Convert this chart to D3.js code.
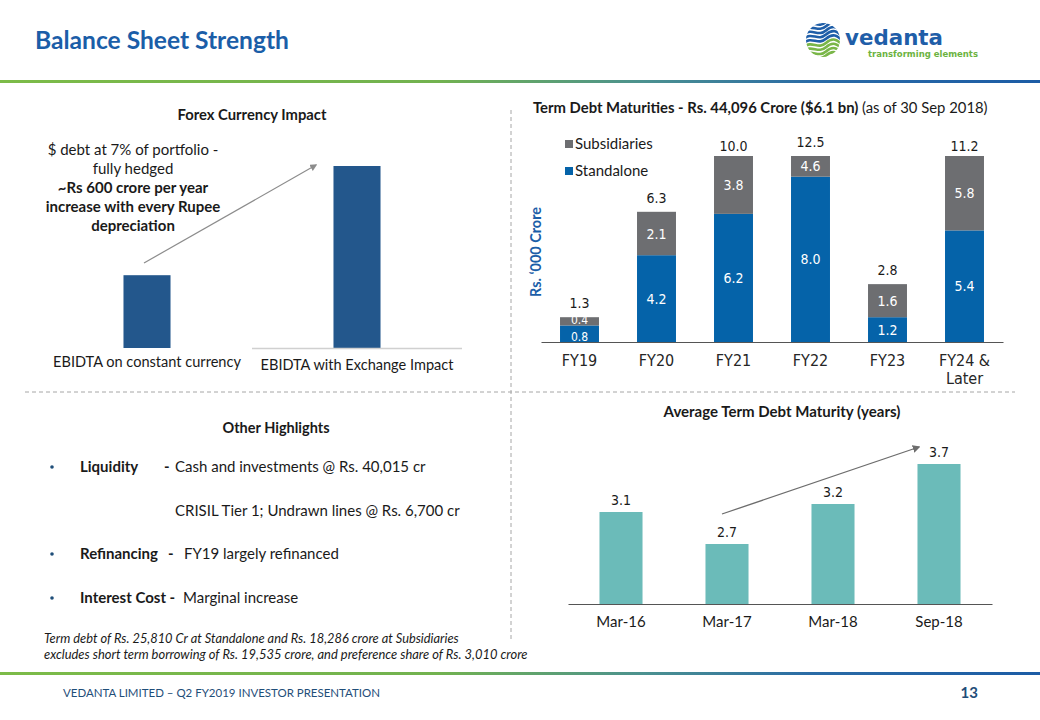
<!DOCTYPE html>
<html><head><meta charset="utf-8">
<script src="https://cdn.jsdelivr.net/npm/d3@7"></script>
<style>body{margin:0;background:#fff}svg{display:block}</style>
</head><body><svg id="c" width="1040" height="720"></svg>
<script>
// ---------- DATA ----------
const forexCategories = ["EBIDTA on constant currency", "EBIDTA with Exchange Impact"];
const forexValues = [40, 100]; // relative (illustrative) heights
const forexNote = ["$ debt at 7% of portfolio -", "fully hedged", "~Rs 600 crore per year", "increase with every Rupee", "depreciation"];

const maturityYears = ["FY19", "FY20", "FY21", "FY22", "FY23", "FY24 & Later"];
const standalone = [0.8, 4.2, 6.2, 8.0, 1.2, 5.4];
const subsidiaries = [0.4, 2.1, 3.8, 4.6, 1.6, 5.8];
const maturityTotals = [1.3, 6.3, 10.0, 12.5, 2.8, 11.2];
const seriesNames = ["Subsidiaries", "Standalone"];

const avgPeriods = ["Mar-16", "Mar-17", "Mar-18", "Sep-18"];
const avgMaturity = [3.1, 2.7, 3.2, 3.7];

const highlights = [
  {head: "Liquidity", dash: "-", text: "Cash and investments @ Rs. 40,015 cr"},
  {head: "", dash: "", text: "CRISIL Tier 1; Undrawn lines @ Rs. 6,700 cr"},
  {head: "Refinancing", dash: "-", text: "FY19 largely refinanced"},
  {head: "Interest Cost -", dash: "", text: "Marginal increase"}
];
const footnotes = [
  "Term debt of Rs. 25,810 Cr at Standalone and Rs. 18,286 crore at Subsidiaries",
  "excludes short term borrowing of Rs. 19,535 crore, and preference share of Rs. 3,010 crore"
];

// ---------- SETUP ----------
const svg = d3.select("#c");
const CAL = "Lato, 'Open Sans', sans-serif";
const VER = "'DejaVu Sans Condensed', 'DejaVu Sans', Verdana, sans-serif";
const BLUE = "#1b5ea8";

function fit(sel, w) {
  sel.each(function () {
    const l = this.getComputedTextLength();
    if (l > 0) {
      const fs = parseFloat(this.getAttribute("font-size"));
      this.setAttribute("font-size", (fs * w / l).toFixed(2));
    }
  });
  return sel;
}

const defs = svg.append("defs");
function grad(id, stops) {
  const g = defs.append("linearGradient").attr("id", id).attr("x1", 0).attr("x2", 1).attr("y1", 0).attr("y2", 0);
  stops.forEach(s => g.append("stop").attr("offset", s[0]).attr("stop-color", s[1]));
}
grad("lineGrad", [[0, "#7cbb48"], [0.42, "#72b24f"], [0.62, "#4b9190"], [0.78, "#2a6ba6"], [1, "#1c5ca5"]]);

// header
svg.append("text").attr("x", 35).attr("y", 49).attr("font-family", CAL).attr("font-weight", 700)
  .attr("font-size", 25).attr("fill", BLUE).text("Balance Sheet Strength").call(fit, 254);
svg.append("rect").attr("x", 0).attr("y", 80).attr("width", 1040).attr("height", 3).attr("fill", "url(#lineGrad)");
svg.append("rect").attr("x", 0).attr("y", 672).attr("width", 1040).attr("height", 3).attr("fill", "url(#lineGrad)");

// logo
const logo = svg.append("g");
defs.append("clipPath").attr("id", "globe").append("circle").attr("cx", 823).attr("cy", 40).attr("r", 17);
const lg = logo.append("g").attr("clip-path", "url(#globe)");
for (let i = 0; i < 9; i++) {
  const y0 = 22 + i * 4.2;
  const col = i < 5 ? "#1f5ea8" : "#7ab648";
  lg.append("path")
    .attr("d", `M804,${y0 + 4} C812,${y0 - 3} 818,${y0 + 7} 826,${y0} S838,${y0 - 2} 844,${y0 + 3}`)
    .attr("fill", "none").attr("stroke", col).attr("stroke-width", 2.6);
}
logo.append("text").attr("x", 845).attr("y", 45).attr("font-family", "'DejaVu Sans', sans-serif").attr("font-weight", 700)
  .attr("font-size", 21).attr("fill", "#1f5ea8").text("vedanta")
  .attr("textLength", 98).attr("lengthAdjust", "spacingAndGlyphs");
logo.append("text").attr("x", 868).attr("y", 57).attr("font-family", "'DejaVu Sans', sans-serif").attr("font-weight", 700)
  .attr("font-size", 9.5).attr("fill", "#6cb33f").text("transforming elements")
  .attr("textLength", 110).attr("lengthAdjust", "spacingAndGlyphs");

// separators
svg.append("line").attr("x1", 25).attr("x2", 1015).attr("y1", 392).attr("y2", 392)
  .attr("stroke", "#a6a6a6").attr("stroke-dasharray", "4,3");
svg.append("line").attr("x1", 511).attr("x2", 511).attr("y1", 110).attr("y2", 641)
  .attr("stroke", "#a6a6a6").attr("stroke-dasharray", "4,3");

// arrow markers
function marker(id, col) {
  defs.append("marker").attr("id", id).attr("viewBox", "0 0 10 10").attr("refX", 8).attr("refY", 5)
    .attr("markerWidth", 6).attr("markerHeight", 6).attr("orient", "auto")
    .append("path").attr("d", "M0,0 L10,5 L0,10 z").attr("fill", col);
}
marker("arrA", "#8c8c8c");
marker("arrB", "#6d6d6d");

// ---------- FOREX CHART ----------
svg.append("text").attr("x", 252).attr("y", 120).attr("text-anchor", "middle").attr("font-family", CAL)
  .attr("font-weight", 700).attr("font-size", 14).attr("fill", "#1a1a1a").text("Forex Currency Impact").call(fit, 149);
const fx = d3.scaleBand().domain(forexCategories).range([42, 462]).paddingInner(0.776).paddingOuter(0.388);
const fy = d3.scaleLinear().domain([0, 100]).range([348, 166]);
svg.append("g").selectAll("rect").data(forexValues).join("rect")
  .attr("x", (d, i) => fx(forexCategories[i])).attr("width", fx.bandwidth())
  .attr("y", d => fy(d)).attr("height", d => fy(0) - fy(d)).attr("fill", "#23578c");
svg.append("line").attr("x1", 252).attr("x2", 462).attr("y1", 348.5).attr("y2", 348.5).attr("stroke", "#d0d0d0").attr("stroke-width", 1.5);
const fAxis = svg.append("g").attr("transform", "translate(0,348)")
  .call(d3.axisBottom(fx).tickSize(0).tickPadding(10));
fAxis.select(".domain").remove();
fAxis.selectAll("text").attr("font-family", CAL).attr("font-size", 15).attr("fill", "#1a1a1a")
  .attr("dy", (d, i) => i === 0 ? "0.6em" : "0.8em");
fAxis.selectAll(".tick text").filter((d, i) => i === 0).call(fit, 188);
fAxis.selectAll(".tick text").filter((d, i) => i === 1).call(fit, 193);
svg.append("g").selectAll("text").data(forexNote).join("text")
  .attr("x", 133).attr("y", (d, i) => 155 + i * 19).attr("text-anchor", "middle")
  .attr("font-family", CAL).attr("font-size", 15).attr("font-weight", (d, i) => i >= 2 ? 700 : 400)
  .attr("fill", "#1a1a1a").text(d => d);
svg.append("line").attr("x1", 144).attr("y1", 263).attr("x2", 316).attr("y2", 165)
  .attr("stroke", "#8c8c8c").attr("stroke-width", 1.2).attr("marker-end", "url(#arrA)");

// ---------- TERM DEBT MATURITIES ----------
const tt = svg.append("text").attr("x", 533).attr("y", 113).attr("font-family", CAL).attr("font-size", 15).attr("fill", "#1a1a1a");
tt.append("tspan").attr("font-weight", 700).text("Term Debt Maturities - Rs. 44,096 Crore ($6.1 bn) ");
tt.append("tspan").text("(as of 30 Sep 2018)");
tt.call(fit, 455);

const tx = d3.scaleBand().domain(maturityYears).range([541, 1003]).paddingInner(0.494).paddingOuter(0.247);
const ty = d3.scaleLinear().domain([0, 9]).range([342, 156]).clamp(true);
const STD = "#0563a9", SUB = "#6d6e71";
const tg = svg.append("g");
tg.selectAll("rect.std").data(standalone).join("rect").attr("class", "std")
  .attr("x", (d, i) => tx(maturityYears[i])).attr("width", tx.bandwidth())
  .attr("y", d => ty(d)).attr("height", d => ty(0) - ty(d)).attr("fill", STD);
tg.selectAll("rect.sub").data(subsidiaries).join("rect").attr("class", "sub")
  .attr("x", (d, i) => tx(maturityYears[i])).attr("width", tx.bandwidth())
  .attr("y", (d, i) => ty(standalone[i] + d)).attr("height", (d, i) => ty(standalone[i]) - ty(standalone[i] + d)).attr("fill", SUB);
// segment labels; thin FY19 segments get a slightly smaller font
tg.selectAll("text.stdl").data(standalone).join("text").attr("class", "stdl")
  .attr("x", (d, i) => tx(maturityYears[i]) + tx.bandwidth() / 2)
  .attr("y", d => (ty(0) + ty(d)) / 2 + (d < 1 ? 7 : 5))
  .attr("text-anchor", "middle").attr("font-family", VER).attr("font-size", d => d < 1 ? 12 : 14).attr("fill", "#fff")
  .text(d => d.toFixed(1));
tg.selectAll("text.subl").data(subsidiaries).join("text").attr("class", "subl")
  .attr("x", (d, i) => tx(maturityYears[i]) + tx.bandwidth() / 2)
  .attr("y", (d, i) => (ty(standalone[i]) + ty(standalone[i] + d)) / 2 + (d < 1 ? 3 : 5))
  .attr("text-anchor", "middle").attr("font-family", VER).attr("font-size", d => d < 1 ? 12 : 14).attr("fill", "#fff")
  .text(d => d.toFixed(1));
tg.selectAll("text.tot").data(maturityTotals).join("text").attr("class", "tot")
  .attr("x", (d, i) => tx(maturityYears[i]) + tx.bandwidth() / 2)
  .attr("y", (d, i) => ty(standalone[i] + subsidiaries[i]) - (d > 12 ? 9 : (d > 9 ? 5 : 9)))
  .attr("text-anchor", "middle").attr("font-family", VER).attr("font-size", 14).attr("fill", "#1a1a1a")
  .text(d => d.toFixed(1));
const tAxis = svg.append("g").attr("transform", "translate(0,342)")
  .call(d3.axisBottom(tx).tickSize(0).tickPadding(13));
tAxis.select(".domain").attr("stroke", "#555").attr("stroke-width", 1.2);
tAxis.selectAll(".tick text").attr("font-family", VER).attr("font-size", 16).attr("fill", "#262626")
  .each(function (d) {
    const t = d3.select(this);
    if (d.indexOf("&") >= 0) {
      t.text(null);
      t.append("tspan").attr("x", 0).text("FY24 &");
      t.append("tspan").attr("x", 0).attr("dy", "1.1em").text("Later");
    }
  });
svg.append("text").attr("transform", "translate(541,252) rotate(-90)").attr("text-anchor", "middle")
  .attr("font-family", CAL).attr("font-weight", 700).attr("font-size", 14).attr("fill", BLUE)
  .text("Rs. \u2018000 Crore").call(fit, 90);
const leg = svg.append("g");
const legCols = [SUB, STD];
seriesNames.forEach((n, i) => {
  leg.append("rect").attr("x", 565).attr("y", 140 + i * 27).attr("width", 8).attr("height", 8).attr("fill", legCols[i]);
  leg.append("text").attr("x", 575).attr("y", 149 + i * 27).attr("font-family", CAL).attr("font-size", 15)
    .attr("fill", "#1a1a1a").text(n);
});

// ---------- AVERAGE TERM DEBT MATURITY ----------
svg.append("text").attr("x", 782).attr("y", 417).attr("text-anchor", "middle").attr("font-family", CAL)
  .attr("font-weight", 700).attr("font-size", 14).attr("fill", "#1a1a1a").text("Average Term Debt Maturity (years)").call(fit, 237);
const ax = d3.scaleBand().domain(avgPeriods).range([568, 992]).paddingInner(0.594).paddingOuter(0.297);
const ay = d3.scaleLinear().domain([1.95, 3.7]).range([604, 464]);
const ag = svg.append("g");
ag.selectAll("rect").data(avgMaturity).join("rect")
  .attr("x", (d, i) => ax(avgPeriods[i])).attr("width", ax.bandwidth())
  .attr("y", d => ay(d)).attr("height", d => ay(1.95) - ay(d)).attr("fill", "#6bbbb9");
ag.selectAll("text").data(avgMaturity).join("text")
  .attr("x", (d, i) => ax(avgPeriods[i]) + ax.bandwidth() / 2).attr("y", d => ay(d) - 7)
  .attr("text-anchor", "middle").attr("font-family", VER).attr("font-size", 14).attr("fill", "#1a1a1a")
  .text(d => d.toFixed(1));
const aAxis = svg.append("g").attr("transform", "translate(0,604)")
  .call(d3.axisBottom(ax).tickSize(0).tickPadding(12));
aAxis.select(".domain").attr("stroke", "#555").attr("stroke-width", 1.2);
aAxis.selectAll(".tick text").attr("font-family", CAL).attr("font-size", 15).attr("fill", "#1a1a1a");
svg.append("line").attr("x1", 722).attr("y1", 514).attr("x2", 919).attr("y2", 447)
  .attr("stroke", "#6d6d6d").attr("stroke-width", 1.3).attr("marker-end", "url(#arrB)");

// ---------- OTHER HIGHLIGHTS ----------
svg.append("text").attr("x", 276).attr("y", 433).attr("text-anchor", "middle").attr("font-family", CAL)
  .attr("font-weight", 700).attr("font-size", 14).attr("fill", "#1a1a1a").text("Other Highlights").call(fit, 107);
const hlY = [472, 516, 559, 603];
const hlDashX = [164, 0, 168, 0];
const hlTextX = [175, 175, 184, 183];
const hg = svg.append("g").attr("font-family", CAL).attr("font-size", 15).attr("fill", "#1a1a1a");
highlights.forEach((h, i) => {
  if (h.head) {
    hg.append("circle").attr("cx", 52).attr("cy", hlY[i] - 5).attr("r", 1.8).attr("fill", "#1f4e79");
    hg.append("text").attr("x", 80).attr("y", hlY[i]).attr("font-weight", 700).text(h.head);
  }
  if (h.dash) hg.append("text").attr("x", hlDashX[i]).attr("y", hlY[i]).attr("font-weight", 700).text(h.dash);
  hg.append("text").attr("x", hlTextX[i]).attr("y", hlY[i]).text(h.text);
});
svg.append("g").selectAll("text").data(footnotes).join("text")
  .attr("x", 44).attr("y", (d, i) => 643 + i * 16).attr("font-family", CAL).attr("font-style", "italic")
  .attr("font-size", 13).attr("fill", "#1a1a1a").text(d => d)
  .each(function (d, i) { d3.select(this).call(fit, i === 0 ? 415 : 484); });

// ---------- FOOTER ----------
svg.append("text").attr("x", 63).attr("y", 697).attr("font-family", CAL).attr("font-size", 12)
  .attr("fill", "#1f4e79").text("VEDANTA  LIMITED \u2013 Q2 FY2019 INVESTOR PRESENTATION")
  .attr("textLength", 317).attr("lengthAdjust", "spacingAndGlyphs");
svg.append("text").attr("x", 978).attr("y", 698).attr("text-anchor", "end").attr("font-family", CAL)
  .attr("font-weight", 700).attr("font-size", 15).attr("fill", "#1f4e79").text("13");
</script></body></html>
